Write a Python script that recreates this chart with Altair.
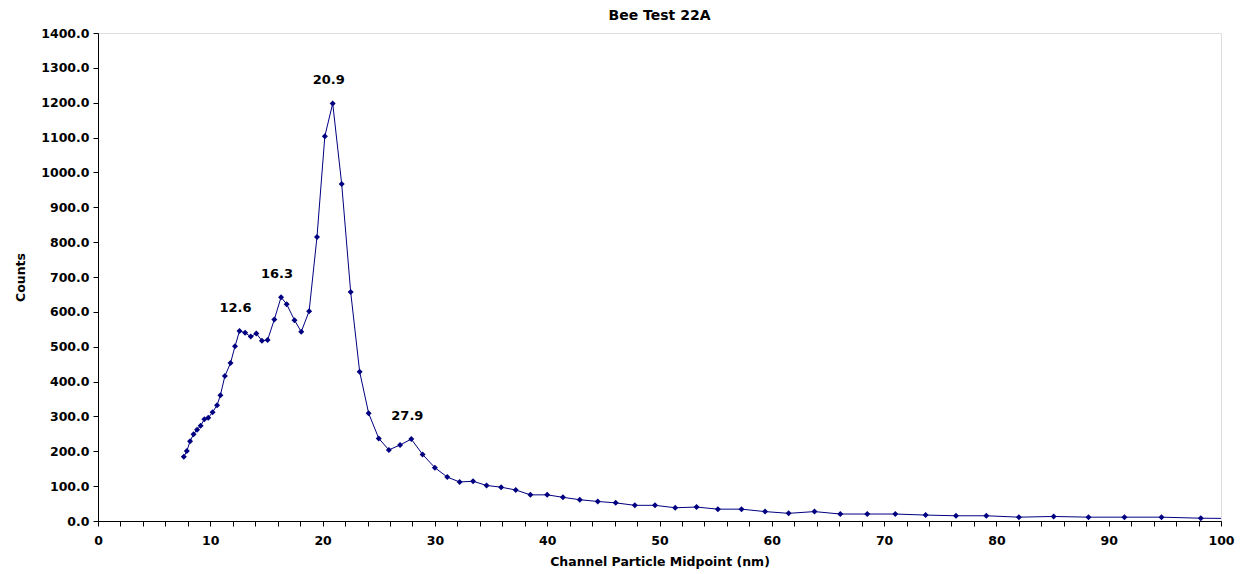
import altair as alt
import pandas as pd

diameter = [7.64, 7.91, 8.20, 8.51, 8.82, 9.14, 9.47, 9.82, 10.2, 10.6, 10.9, 11.3,
            11.8, 12.2, 12.6, 13.1, 13.6, 14.1, 14.6, 15.1, 15.7, 16.3, 16.8, 17.5,
            18.1, 18.8, 19.5, 20.2, 20.9, 21.7, 22.5, 23.3, 24.1, 25.0, 25.9, 26.9,
            27.9, 28.9, 30.0, 31.1, 32.2, 33.4, 34.6, 35.9, 37.2, 38.5, 40.0, 41.4,
            42.9, 44.5, 46.1, 47.8, 49.6, 51.4, 53.3, 55.2, 57.3, 59.4, 61.5, 63.8,
            66.1, 68.5, 71.0, 73.7, 76.4, 79.1, 82.0, 85.1, 88.2, 91.4, 94.7, 98.2, 101.8]
counts = [184, 201, 229, 249, 262, 273, 292, 296, 312, 332, 361, 416,
          453, 501, 545, 540, 529, 538, 517, 519, 578, 642, 622, 576,
          543, 602, 815, 1104, 1198, 967, 657, 428, 309, 237, 204, 218,
          235, 191, 153, 126, 112, 114, 102, 97, 89, 75, 75, 68,
          61, 56, 52, 45, 45, 38, 40, 34, 34, 27, 22, 27,
          20, 20, 20, 17, 15, 15, 11, 13, 11, 11, 11, 8, 7]

peak_x = [12.6, 16.3, 20.9, 27.9]
peak_y = [545, 642, 1198, 235]
peak_text = ["12.6", "16.3", "20.9", "27.9"]

x_ticks = list(range(0, 101, 2))
y_ticks = list(range(0, 1401, 100))

df = pd.DataFrame({"d": diameter, "c": counts})
peaks = pd.DataFrame({"d": peak_x, "c": peak_y, "t": peak_text})

FONT = "DejaVu Sans"
NAVY = "#000080"

xscale = alt.Scale(domain=[0, 100], nice=False, zero=False)
yscale = alt.Scale(domain=[0, 1400], nice=False)

xaxis = alt.Axis(
    title="Channel Particle Midpoint (nm)",
    values=x_ticks,
    labelExpr="datum.value % 10 == 0 ? datum.label : ''",
    grid=False, domainColor="black", tickColor="black", tickSize=5,
    labelFont=FONT, labelFontSize=12.5, labelFontWeight="bold", labelColor="black",
    labelPadding=8, titleFont=FONT, titleFontSize=12.5, titleFontWeight="bold",
    titleColor="black", titlePadding=9, labelOverlap=False, labelFlush=False,
    labelBound=False,
)
yaxis = alt.Axis(
    title="Counts",
    values=y_ticks,
    format=".1f",
    grid=False, domainColor="black", tickColor="black", tickSize=5,
    labelFont=FONT, labelFontSize=12.5, labelFontWeight="bold", labelColor="black",
    labelPadding=4, titleFont=FONT, titleFontSize=12.5, titleFontWeight="bold",
    titleColor="black", titlePadding=13, labelOverlap=False, labelBound=False,
)

X = alt.X("d:Q", scale=xscale, axis=xaxis)
Y = alt.Y("c:Q", scale=yscale, axis=yaxis)

base = alt.Chart(df).encode(x=X, y=Y)
line = base.mark_line(color=NAVY, strokeWidth=1, clip=True)
pts = base.mark_point(shape="diamond", filled=True, color=NAVY, size=36, opacity=1, clip=True)
labels = alt.Chart(peaks).mark_text(
    font=FONT, fontSize=13, fontWeight="bold", color="black", dy=-16, dx=-4, baseline="bottom"
).encode(x=X, y=Y, text="t:N")

chart = (line + pts + labels).properties(
    width=1123, height=488,
    title=alt.Title("Bee Test 22A", font=FONT, fontSize=14, fontWeight="bold", color="black", offset=4),
    autosize=alt.AutoSizeParams(type="none"),
    padding={"left": 90, "top": 25, "right": 14, "bottom": 52},
).configure_view(stroke="#808080", strokeWidth=1).configure(background="white")

chart.save("out.html", embed_options={"renderer": "svg", "actions": False})
